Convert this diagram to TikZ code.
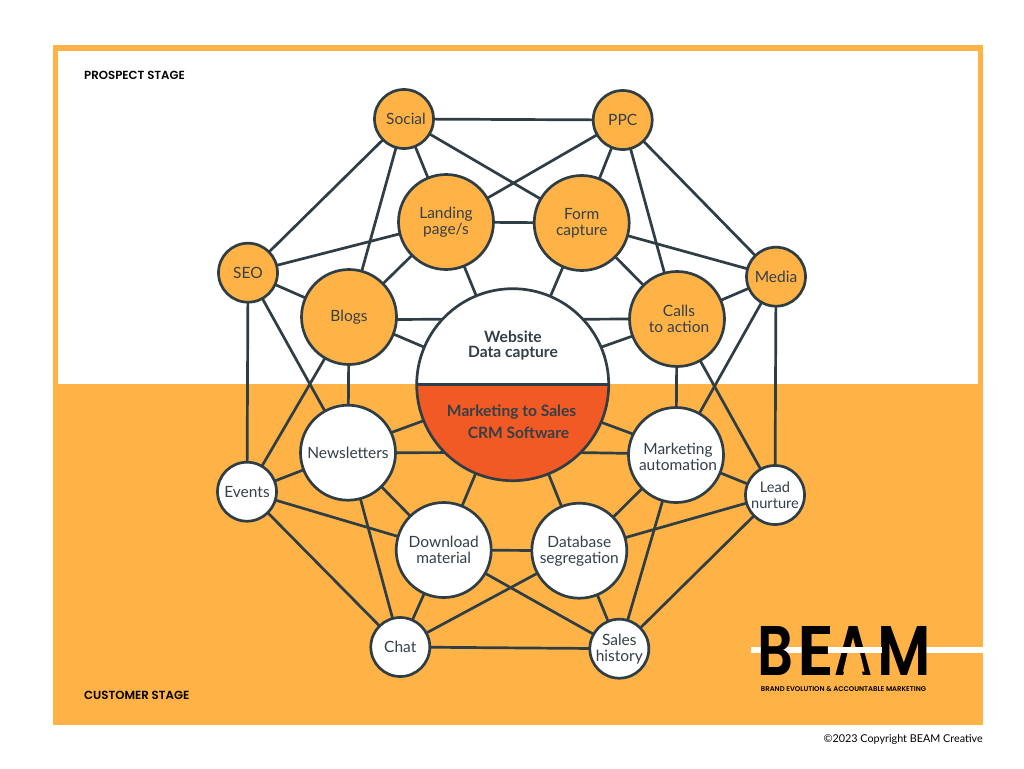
\documentclass[tikz,border=0pt]{standalone}
\usepackage{fontspec}
\usepackage{graphicx}
\setmainfont{Lato}
\newfontfamily\headfont{Poppins SemiBold}
\newcommand{\nudge}{\hspace*{4pt}}
\definecolor{amber}{HTML}{FFB347}
\definecolor{ink}{HTML}{2F3D45}
\definecolor{txt}{HTML}{343F46}
\definecolor{flame}{HTML}{F25A25}
\tikzset{
 big/.style={circle,draw=ink,line width=2.7pt,minimum size=95pt,inner sep=0pt,outer sep=0pt,align=center,text=txt,font=\fontsize{15.5}{16}\selectfont},
 small/.style={big,minimum size=59pt},
 warm/.style={fill=amber},
 cool/.style={fill=white},
 link/.style={draw=ink,line width=2.7pt},
 stage/.style={anchor=west,inner sep=0pt,font=\headfont\fontsize{11.75}{12}\selectfont,text=black},
 hubtext/.style={inner sep=0pt,text=txt,font=\bfseries\fontsize{15.6}{16}\selectfont},
}
\begin{document}
\begin{tikzpicture}[x=1pt,y=-1pt]
\useasboundingbox (0,0) rectangle (1024,768);
\fill[white] (0,0) rectangle (1024,768);
\fill[amber] (53,45) rectangle (983,725);
\fill[white] (58,51) rectangle (978,384);

\node[stage] (prospect) at (84,75.5) {PROSPECT STAGE};
\node[stage] (customer) at (84,695.5) {CUSTOMER STAGE};

\node[small,warm] (social) at (404,119) {\nudge Social};
\node[small,warm] (ppc) at (622.7,120) {PPC};
\node[big,warm] (landing) at (446,222) {Landing\\page/s};
\node[big,warm] (form) at (581.7,223) {Form\\capture};
\node[small,warm] (seo) at (248,272.7) {SEO};
\node[big,warm] (blogs) at (349,317) {Blogs};
\node[small,warm] (media) at (776,276.7) {Media};
\node[big,warm] (calls) at (677,319) {\nudge Calls\\\nudge to action};
\node[big,cool] (news) at (348,452.7) {Newsletters};
\node[small,cool] (events) at (247,491.7) {Events};
\node[big,cool] (mauto) at (676,455) {\rule{0pt}{15pt}\nudge Marketing\\\nudge automation};
\node[small,cool,font=\fontsize{14.6}{15.5}\selectfont] (lead) at (775,495) {Lead\\nurture};
\node[big,cool] (down) at (443.7,550) {Download\\material};
\node[big,cool] (dbase) at (579.3,550.7) {Database\\segregation};
\node[small,cool] (chat) at (400.3,647) {Chat};
\node[small,cool] (sales) at (619.3,648.7) {Sales\\history};

\node[big,cool,minimum size=192pt,path picture={\fill[flame] (path picture bounding box.west) rectangle (path picture bounding box.south east);}] (hub) at (512.7,384.7) {};
\draw[link] (hub.west) -- (hub.east);
\node[hubtext] (t1) at (513,337) {Website};
\node[hubtext] (t2) at (513,353) {Data capture};
\node[hubtext] (t3) at (511.6,412) {Marketing to Sales};
\node[hubtext] (t4) at (518.5,433) {CRM Software};

\foreach \a/\b in {social/ppc,social/landing,social/form,social/seo,social/blogs,
 ppc/landing,ppc/form,ppc/calls,ppc/media,landing/form,landing/seo,landing/blogs,landing/hub,
 form/media,form/calls,form/hub,seo/blogs,seo/events,seo/news,blogs/news,blogs/events,
 news/events,news/down,news/chat,events/down,events/chat,down/chat,down/dbase,down/sales,down/hub,
 dbase/chat,dbase/sales,dbase/mauto,dbase/lead,dbase/hub,mauto/lead,mauto/sales,sales/lead,chat/sales,
 calls/media,calls/mauto,calls/lead,media/mauto,media/lead}
 \draw[link] (\a) -- (\b);
% paired links to the hub
\draw[link] (blogs.-3) -- (hub.137);
\draw[link] (blogs.-21) -- (hub.157);
\draw[link] (calls.180) -- (hub.43);
\draw[link] (calls.-159) -- (hub.23);
\draw[link] (news.0) -- (hub.-135);
\draw[link] (news.25) -- (hub.-158);
\draw[link] (mauto.178) -- (hub.-45);
\draw[link] (mauto.154) -- (hub.-23);

% logo
\fill[white] (751,646.7) rectangle (882,653.3);
\fill[white] (926,646.7) rectangle (983,653.3);
\node[inner sep=0pt,text=black,anchor=west] (beam) at (757.5,650.5) {\headfont
 \resizebox{36pt}{49pt}{B}\hspace{3.5pt}\resizebox{37pt}{49pt}{E}\hspace{0pt}\resizebox{38pt}{49pt}{A}\hspace{5pt}\resizebox{53.5pt}{49pt}{M}};
\fill[amber] (847.5,653) -- (860,653) -- (864.5,671.5) -- (843,671.5) -- cycle;
\fill[white] (829.5,646.7) rectangle (882,653.3);
\node[anchor=center,inner sep=0pt,text=black,font=\headfont\fontsize{6.9}{7}\selectfont] (tag) at (843.5,689) {BRAND EVOLUTION \& ACCOUNTABLE MARKETING};
\node[anchor=east,inner sep=0pt,text=black,font=\fontsize{10.8}{12}\selectfont] (copy) at (983,739.5) {©2023 Copyright BEAM Creative};
\end{tikzpicture}
\end{document}
